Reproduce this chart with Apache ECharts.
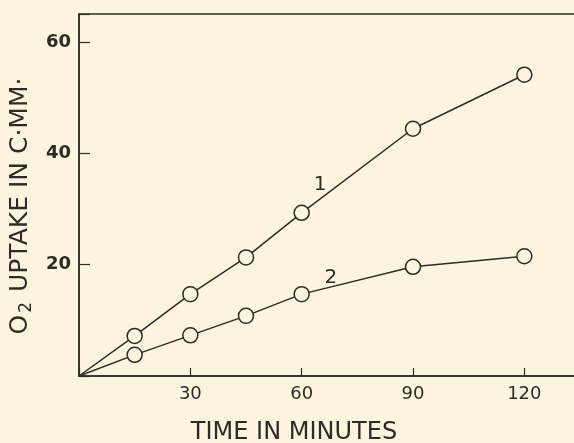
<!DOCTYPE html>
<html>
<head>
<meta charset="utf-8">
<script src="https://cdn.jsdelivr.net/npm/echarts@6/dist/echarts.min.js"></script>
<style>
  html, body { margin: 0; padding: 0; background: #fdf4e0; }
  #chart { width: 574px; height: 443px; }
</style>
</head>
<body>
<div id="chart"></div>
<script>
// time points (minutes)
const times = [0, 15, 30, 45, 60, 90, 120]
// O2 uptake, c.mm
const curve1 = [0, 7.2, 14.7, 21.3, 29.3, 44.4, 54.1]
const curve2 = [0, 3.8, 7.3, 10.8, 14.7, 19.6, 21.5]
// curve labels: [x, y, text]
const curveLabels = [[65, 34.3, '1'], [67.9, 17.7, '2']]
const xTicks = [30, 60, 90, 120]
const yTicks = [20, 40, 60]

const ink = '#2f2a25'
const paper = '#fdf4e0'
const font = 'DejaVu Sans'

const chart = echarts.init(document.getElementById('chart'))

// build points, origin without a circle
const toPoints = (vals) => times.map((t, i) => (
  t === 0 ? { value: [t, vals[i]], symbol: 'none' } : [t, vals[i]]
))

const makeSeries = (name, vals, lab) => ({
  name: name,
  type: 'line',
  data: toPoints(vals),
  symbol: 'circle',
  symbolSize: 15,
  lineStyle: { color: ink, width: 1.5 },
  itemStyle: { color: paper, borderColor: ink, borderWidth: 1.5 },
  z: 3,
  animation: false,
  markPoint: {
    symbol: 'circle',
    symbolSize: 0,
    data: [{ coord: [lab[0], lab[1]], value: lab[2] }],
    label: {
      show: true,
      formatter: lab[2],
      color: ink,
      fontFamily: font,
      fontSize: 20
    }
  }
})

const option = {
  backgroundColor: paper,
  animation: false,
  grid: {
    left: 79,
    top: 14,
    bottom: 67,
    width: 501,
    outerBoundsMode: 'none',
    containLabel: false,
    show: true,
    backgroundColor: 'transparent',
    borderColor: ink,
    borderWidth: 1.5
  },
  xAxis: {
    type: 'value',
    min: 0,
    max: 135,
    interval: 30,
    name: 'TIME IN MINUTES',
    nameLocation: 'middle',
    nameGap: 45,
    nameTextStyle: {
      color: ink,
      fontFamily: font,
      fontSize: 24,
      padding: [0, 71, 0, 0]
    },
    axisLine: { show: true, lineStyle: { color: ink, width: 1.5 } },
    axisTick: { show: true, inside: true, length: 8, lineStyle: { color: ink, width: 1.2 } },
    axisLabel: {
      color: ink,
      fontFamily: font,
      fontSize: 18,
      margin: 9,
      formatter: (v) => xTicks.includes(v) ? String(v) : ''
    },
    splitLine: { show: false }
  },
  yAxis: {
    type: 'value',
    min: 0,
    max: 65,
    interval: 20,
    name: '{o|O}{s|2} UPTAKE IN C·MM·',
    nameLocation: 'middle',
    nameGap: 44,
    nameTextStyle: {
      color: ink,
      fontFamily: font,
      fontSize: 25,
      padding: [0, 22, 0, 0],
      rich: {
        o: { fontFamily: font, fontSize: 25, color: ink },
        s: { fontFamily: font, fontSize: 17, color: ink, padding: [12, 2, 0, 2] }
      }
    },
    axisLine: { show: true, lineStyle: { color: ink, width: 1.5 } },
    axisTick: { show: true, inside: true, length: 11, lineStyle: { color: ink, width: 1.2 } },
    axisLabel: {
      color: ink,
      fontFamily: font,
      fontSize: 18,
      fontWeight: 'bold',
      margin: 8,
      padding: [0, 0, 8, 0],
      formatter: (v) => yTicks.includes(v) ? String(v) : ''
    },
    splitLine: { show: false }
  },
  series: [
    makeSeries('1', curve1, curveLabels[0]),
    makeSeries('2', curve2, curveLabels[1])
  ]
}

chart.setOption(option)
</script>
</body>
</html>
